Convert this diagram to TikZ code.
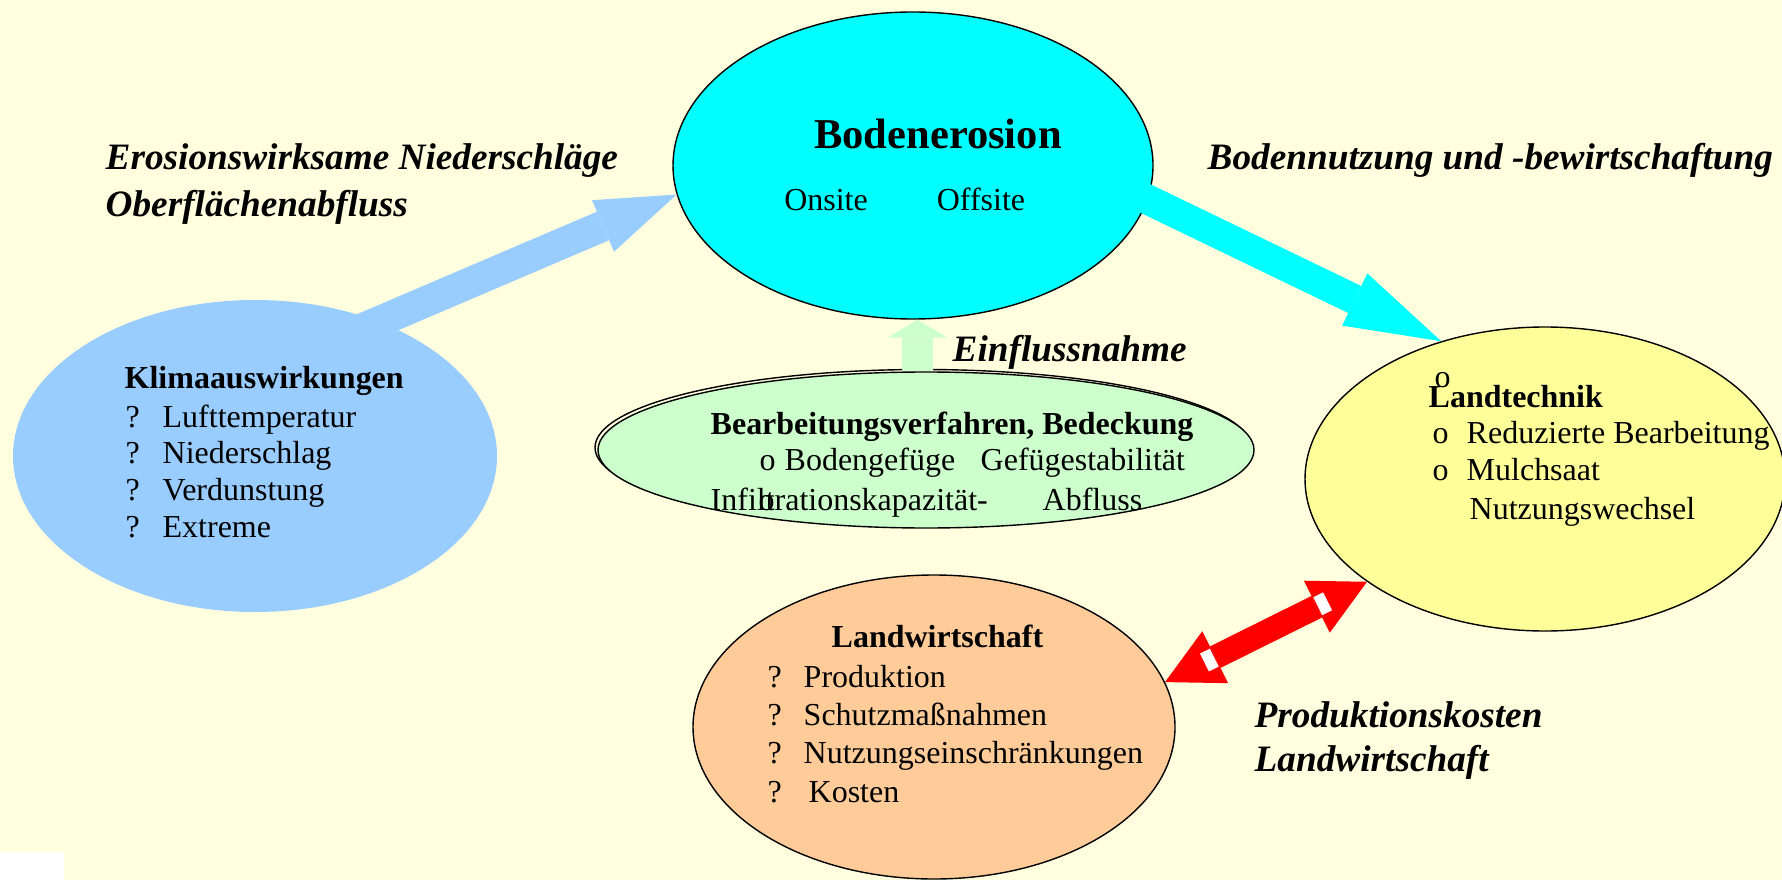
\documentclass[tikz,border=0pt]{standalone}
\usepackage{fontspec}
\setmainfont{Liberation Serif}[Ligatures=NoCommon]
\usetikzlibrary{shapes.geometric,arrows.meta,calc}

\definecolor{bgyellow}{HTML}{FFFFE0}
\definecolor{klimablue}{HTML}{99CCFF}
\definecolor{erocyan}{HTML}{00FFFF}
\definecolor{bearbgreen}{HTML}{CCFFCC}
\definecolor{techyellow}{HTML}{FFFF99}
\definecolor{landorange}{HTML}{FFCC99}

\tikzset{
  bubble/.style={ellipse, inner sep=0pt},
  txt/.style={anchor=base west, inner sep=0pt, font=\fontsize{9.1}{11}\selectfont},
  ttl/.style={anchor=base west, inner sep=0pt, font=\fontsize{9.1}{11}\selectfont\bfseries},
  lbl/.style={anchor=base west, inner sep=0pt, font=\fontsize{10.6}{13}\selectfont\bfseries\itshape},
  fat/.style n args={3}{line width=#1, -{Triangle[width=#2, length=#3, line width=0pt]}},
}

\begin{document}
\begin{tikzpicture}
%\draw[help lines] (0,0) grid (18,9);
\useasboundingbox (0,0) rectangle (17.82,8.80);
\fill[bgyellow] (0,0) rectangle (17.82,8.80);
\fill[white] (0,0) rectangle (0.64,0.28);

\node[bubble, fill=klimablue, minimum width=4.84cm, minimum height=3.12cm] (klima) at (2.55,4.24) {};
\node[bubble, draw, fill=erocyan, minimum width=4.80cm, minimum height=3.07cm] (boden) at (9.13,7.145) {};
\draw (9.23,4.325) ellipse [x radius=3.28, y radius=0.78];
\node[bubble, draw, fill=bearbgreen, minimum width=6.56cm, minimum height=1.56cm] (bearb) at (9.26,4.30) {};
\node[bubble, draw, fill=techyellow, minimum width=4.80cm, minimum height=3.04cm] (tech) at (15.45,4.01) {};
\node[bubble, draw, fill=landorange, minimum width=4.82cm, minimum height=3.04cm] (landw) at (9.34,1.53) {};

\draw[fat={0.31cm}{0.56cm}{0.80cm}, klimablue] ($(klima.center)+(0.74,1.13)$) -- (boden.187.2);
\draw[fat={0.30cm}{0.58cm}{0.96cm}, erocyan] ($(boden.center)+(2.065,-0.205)$) -- (tech.127.5);
\coordinate (gfoot) at ([xshift=-0.085cm]bearb.north);
\draw[fat={0.31cm}{0.60cm}{0.18cm}, bearbgreen] (gfoot) -- (gfoot |- boden.south);
\coordinate (rl) at (landw.11.2);
\coordinate (ru) at (tech.210.8);
\draw[red, line width=0.24cm, {Triangle[width=0.58cm, length=0.56cm, line width=0pt]}-{Triangle[width=0.58cm, length=0.56cm, line width=0pt]}] (rl) -- (ru);
\draw[white, line width=0.20cm] ($(ru)!0.44cm!(rl)$) -- ($(ru)!0.55cm!(rl)$);
\draw[white, line width=0.20cm] ($(rl)!0.44cm!(ru)$) -- ($(rl)!0.55cm!(ru)$);

\node[anchor=base, inner sep=0pt, font=\fontsize{12.1}{14}\selectfont\bfseries] (tboden) at (9.38,7.31) {Bodenerosion};
\node[txt, anchor=base] (tonsite) at (8.26,6.69) {Onsite};
\node[txt, anchor=base] (toffsite) at (9.81,6.69) {Offsite};

\node[ttl] (tklima) at (1.24,4.92) {Klimaauswirkungen};
\foreach \t/\y [count=\i] in {Lufttemperatur/4.53, Niederschlag/4.17, Verdunstung/3.80, Extreme/3.43} {
  \node[txt] (kq\i) at (1.25,\y) {?};
  \node[txt] (ki\i) at (1.62,\y) {\t};
}

\node[ttl] (tbearb) at (7.10,4.46) {Bearbeitungsverfahren, Bedeckung};
\node[txt] (bo1) at (7.59,4.10) {o};
\node[txt] (bgef) at (7.84,4.10) {Bodengefüge};
\node[txt] (bstab) at (9.80,4.10) {Gefügestabilität};
\node[txt] (binf) at (7.10,3.70) {Infiltrationskapazität-};
\node[txt] (bo2) at (7.58,3.70) {o};
\node[txt] (babf) at (10.42,3.70) {Abfluss};

\node[txt] (tco) at (14.34,4.93) {o};
\node[ttl] (ttech) at (14.28,4.73) {Landtechnik};
\node[txt] (to1) at (14.32,4.37) {o};
\node[txt] (tr1) at (14.66,4.37) {Reduzierte Bearbeitung};
\node[txt] (to2) at (14.32,4.00) {o};
\node[txt] (tr2) at (14.66,4.00) {Mulchsaat};
\node[txt] (tr3) at (14.69,3.61) {Nutzungswechsel};

\node[ttl] (tlandw) at (8.31,2.33) {Landwirtschaft};
\foreach \t/\y/\x [count=\i] in {Produktion/1.93/8.03, Schutzmaßnahmen/1.55/8.03, Nutzungseinschränkungen/1.17/8.03, Kosten/0.78/8.08} {
  \node[txt] (lq\i) at (7.67,\y) {?};
  \node[txt] (li\i) at (\x,\y) {\t};
}

\node[lbl] (lero1) at (1.05,7.10) {Erosionswirksame Niederschläge};
\node[lbl] (lero2) at (1.05,6.63) {Oberflächenabfluss};
\node[lbl] (lnutz) at (12.07,7.10) {Bodennutzung und -bewirtschaftung};
\node[lbl] (lein) at (9.52,5.19) {Einflussnahme};
\node[lbl] (lkost1) at (12.54,1.53) {Produktionskosten};
\node[lbl] (lkost2) at (12.54,1.09) {Landwirtschaft};
\end{tikzpicture}
\end{document}
